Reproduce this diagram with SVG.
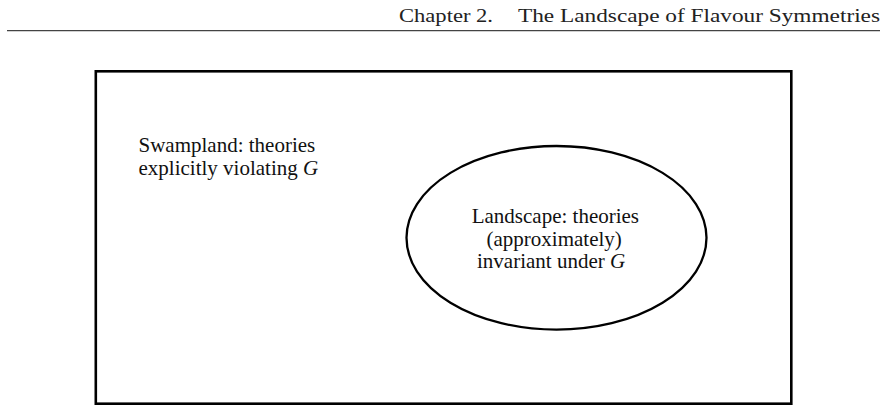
<svg xmlns="http://www.w3.org/2000/svg" width="887" height="413" viewBox="0 0 887 413">
<style>
.hdr{font-family:"Liberation Serif","DejaVu Serif",serif;font-size:19px;fill:#222}
.lbl{font-family:"Liberation Serif","Times New Roman",serif;font-size:21px;fill:#111}
.it{font-style:italic}
.shape{fill:none;stroke:#000}
</style>
<rect width="887" height="413" fill="#fff"/>
<g id="header">
<text class="hdr" x="399" y="22" textLength="94" lengthAdjust="spacingAndGlyphs">Chapter 2.</text>
<text class="hdr" x="518" y="22" textLength="362" lengthAdjust="spacingAndGlyphs">The Landscape of Flavour Symmetries</text>
<line x1="7" y1="30.6" x2="880" y2="30.6" stroke="#444" stroke-width="1.3"/>
</g>
<g id="swampland">
<rect class="shape" x="95.8" y="71.3" width="695.5" height="332.4" stroke-width="2.6"/>
<text class="lbl" x="138.5" y="151.5">Swampland: theories</text>
<text class="lbl" x="138.5" y="174.5">explicitly violating <tspan class="it">G</tspan></text>
</g>
<g id="landscape">
<ellipse class="shape" cx="556.5" cy="237.8" rx="150" ry="91.8" stroke-width="2.3"/>
<text class="lbl" x="471.7" y="223">Landscape: theories</text>
<text class="lbl" x="486.5" y="245.5">(approximately)</text>
<text class="lbl" x="477" y="268">invariant under <tspan class="it">G</tspan></text>
</g>
<g id="connectors"/>
</svg>
